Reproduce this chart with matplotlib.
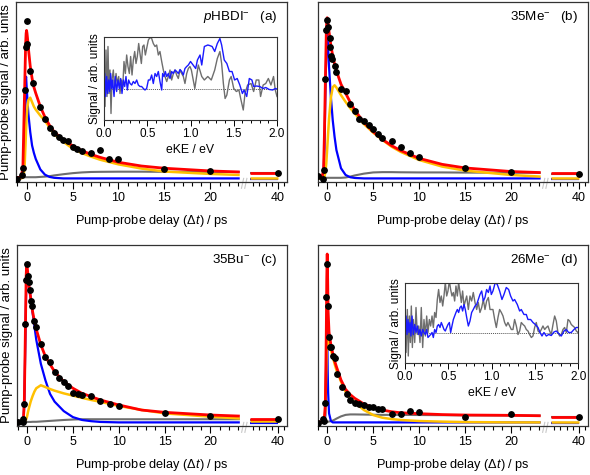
import numpy as np
import matplotlib
matplotlib.use("Agg")
import matplotlib.pyplot as plt
from matplotlib.ticker import FixedLocator, MultipleLocator, NullLocator

plt.rcParams['font.family'] = ['Liberation Sans', 'DejaVu Sans']
plt.rcParams['mathtext.fontset'] = 'custom'
plt.rcParams['mathtext.rm'] = 'Liberation Sans'
plt.rcParams['mathtext.it'] = 'Liberation Sans:italic'
plt.rcParams['mathtext.bf'] = 'Liberation Sans:bold'

# ---- fit curves, sampled on a shared delay grid (ps) ----
t_fit = [-1.2, -0.6, -0.4, -0.3, -0.2, -0.1, -0.05, 0, 0.05, 0.1, 0.2, 0.4, 0.6, 0.8, 1.0,
         1.5, 2, 2.5, 3, 4, 5, 6, 7, 8, 10, 12.5, 15, 20, 23.2]
t_tail = [35.5, 40.0]

a_red = [0.005, 0.008, 0.07, 0.35, 0.62, 0.90, 0.97, 0.99, 0.97, 0.94, 0.87, 0.75, 0.67, 0.61, 0.57,
         0.48, 0.41, 0.355, 0.312, 0.257, 0.219, 0.186, 0.161, 0.141, 0.108, 0.083, 0.068, 0.05, 0.043]
a_yel = [0, 0, 0.005, 0.03, 0.10, 0.25, 0.33, 0.40, 0.44, 0.48, 0.525, 0.54, 0.51, 0.48, 0.46,
         0.42, 0.385, 0.34, 0.295, 0.245, 0.20, 0.17, 0.146, 0.125, 0.094, 0.066, 0.046, 0.03, 0.023]
a_blu = [0, 0, 0.01, 0.12, 0.40, 0.66, 0.68, 0.62, 0.57, 0.52, 0.43, 0.31, 0.22, 0.17, 0.13,
         0.06, 0.025, 0.01, 0.004, 0, 0, 0, 0, 0, 0, 0, 0, 0, 0]
a_gry = [0.008, 0.008, 0.008, 0.008, 0.008, 0.008, 0.008, 0.008, 0.008, 0.008, 0.008, 0.008, 0.008, 0.008, 0.008,
         0.01, 0.012, 0.015, 0.02, 0.028, 0.035, 0.04, 0.043, 0.044, 0.045, 0.045, 0.044, 0.043, 0.043]
a_tail = [0.037, 0.006, -0.002, 0.035]   # red, yellow, blue, gray at long delay

b_red = [0.005, 0.005, 0.05, 0.3, 0.65, 0.97, 1.05, 1.075, 1.06, 1.04, 0.98, 0.89, 0.82, 0.765, 0.72,
         0.63, 0.57, 0.51, 0.456, 0.374, 0.312, 0.261, 0.219, 0.186, 0.134, 0.094, 0.07, 0.046, 0.039]
b_yel = [0, 0, 0, 0.01, 0.04, 0.10, 0.15, 0.2, 0.25, 0.3, 0.4, 0.54, 0.61, 0.623, 0.608,
         0.557, 0.512, 0.47, 0.434, 0.363, 0.306, 0.257, 0.212, 0.177, 0.123, 0.079, 0.052, 0.023, 0.012]
b_blu = [0, 0, 0.02, 0.2, 0.55, 0.85, 0.93, 0.965, 0.93, 0.87, 0.745, 0.545, 0.39, 0.279, 0.19,
         0.068, 0.023, 0.008, 0.003, 0, 0, 0, 0, 0, 0, 0, 0, 0, 0]
b_gry = [0.004, 0.004, 0.004, 0.004, 0.004, 0.004, 0.004, 0.004, 0.004, 0.004, 0.004, 0.004, 0.004, 0.004, 0.004,
         0.004, 0.006, 0.012, 0.02, 0.032, 0.04, 0.042, 0.042, 0.041, 0.04, 0.04, 0.039, 0.038, 0.038]
b_tail = [0.034, 0.006, -0.002, 0.03]

c_red = [0.0, 0.003, 0.02, 0.15, 0.55, 0.98, 1.045, 1.04, 1.01, 0.98, 0.91, 0.827, 0.738, 0.671, 0.62,
         0.516, 0.438, 0.387, 0.338, 0.271, 0.227, 0.193, 0.171, 0.149, 0.116, 0.082, 0.067, 0.049, 0.042]
c_yel = [0, 0, 0, 0.005, 0.01, 0.02, 0.03, 0.04, 0.055, 0.07, 0.095, 0.14, 0.175, 0.205, 0.227,
         0.247, 0.235, 0.222, 0.211, 0.193, 0.178, 0.163, 0.149, 0.137, 0.109, 0.083, 0.06, 0.038, 0.026]
c_blu = [0, 0, 0.01, 0.12, 0.5, 0.88, 0.95, 0.97, 0.96, 0.95, 0.91, 0.82, 0.73, 0.64, 0.55,
         0.39, 0.28, 0.19, 0.138, 0.075, 0.035, 0.016, 0.008, 0.003, 0, 0, 0, 0, 0]
c_gry = [0.0, 0.001, 0.001, 0.002, 0.002, 0.002, 0.002, 0.002, 0.003, 0.003, 0.003, 0.003, 0.004, 0.004, 0.004,
         0.006, 0.008, 0.01, 0.012, 0.016, 0.019, 0.021, 0.021, 0.021, 0.021, 0.021, 0.021, 0.021, 0.021]
c_tail = [0.022, 0.006, -0.001, 0.014]

d_red = [0.0, 0.005, 0.01, 0.04, 0.12, 0.6, 0.95, 1.12, 0.95, 0.74, 0.6, 0.516, 0.46, 0.41, 0.371,
         0.282, 0.22, 0.185, 0.16, 0.122, 0.098, 0.082, 0.071, 0.064, 0.058, 0.052, 0.049, 0.047, 0.044]
d_yel = [0, 0, 0, 0.01, 0.08, 0.35, 0.5, 0.56, 0.56, 0.55, 0.53, 0.48, 0.438, 0.39, 0.349,
         0.271, 0.204, 0.16, 0.131, 0.082, 0.049, 0.031, 0.022, 0.016, 0.009, 0.005, 0.002, 0, 0]
d_blu = [0, 0, 0, 0, 0.05, 0.45, 0.68, 0.6, 0.35, 0.2, 0.06, 0.01, 0, 0, 0,
         0, 0, 0, 0, 0, 0, 0, 0, 0, 0, 0, 0, 0, 0]
d_gry = [0, 0, 0, 0, 0, 0.001, 0.001, 0.002, 0.003, 0.004, 0.006, 0.008, 0.012, 0.018, 0.025,
         0.04, 0.05, 0.053, 0.053, 0.052, 0.051, 0.05, 0.05, 0.05, 0.049, 0.048, 0.047, 0.046, 0.045]
d_tail = [0.038, 0.0, -0.001, 0.034]

# ---- measured points ----
a_dot_t = [-1, -0.5, -0.4, -0.2, -0.1, 0, 0.1, 0.4, 0.7, 1.5, 2, 2.5, 3, 3.5, 4, 4.5, 5, 5.5, 6, 7, 8, 9, 10, 15, 20, 40]
a_dot_y = [-0.006, 0.025, 0.07, 0.59, 0.88, 1.05, 0.90, 0.72, 0.64, 0.479, 0.399, 0.34, 0.306, 0.279, 0.257,
           0.252, 0.212, 0.199, 0.186, 0.172, 0.188, 0.128, 0.128, 0.061, 0.05, 0.034]

b_dot_t = [-1, -0.5, -0.3, -0.2, -0.1, 0, 0.1, 0.25, 0.35, 0.45, 0.55, 0.8, 1.0, 1.5, 2, 2.5, 3, 3.5, 4, 4.5,
           5, 5.5, 6, 7, 8, 9, 10, 15, 20, 40]
b_dot_y = [0.019, -0.006, 0.057, 0.663, 0.994, 1.057, 1.01, 0.94, 0.88, 0.817, 0.80, 0.75, 0.712, 0.597, 0.586,
           0.501, 0.452, 0.397, 0.383, 0.359, 0.33, 0.294, 0.272, 0.252, 0.208, 0.172, 0.146, 0.072, 0.041, 0.032]

c_dot_t = [-1, -0.5, -0.4, -0.3, -0.2, -0.1, 0, 0.1, 0.2, 0.35, 0.45, 0.55, 0.75, 1.0, 1.5, 2, 2.5, 3, 3.5, 4,
           4.5, 5, 5.5, 6, 7, 8, 9, 10, 15, 20, 40]
c_dot_y = [0.0, 0.004, 0.02, 0.122, 0.653, 0.949, 1.053, 0.976, 0.931, 0.878, 0.809, 0.776, 0.676, 0.633, 0.522,
           0.438, 0.40, 0.338, 0.293, 0.267, 0.244, 0.193, 0.187, 0.182, 0.176, 0.144, 0.122, 0.111, 0.064, 0.042, 0.022]

d_dot_t = [-1, -0.5, -0.4, -0.2, -0.1, 0, 0.1, 0.2, 0.3, 0.45, 0.65, 0.85, 1.05, 1.6, 2.1, 2.5, 3, 3.5, 4, 4.5,
           5, 5.5, 6, 7, 8, 9, 10, 15, 20, 40]
d_dot_y = [-0.007, 0.02, 0.008, 0.127, 0.831, 1.056, 0.773, 0.567, 0.50, 0.50, 0.442, 0.427, 0.322, 0.238, 0.19,
           0.149, 0.127, 0.12, 0.116, 0.104, 0.104, 0.087, 0.091, 0.056, 0.056, 0.078, 0.071, 0.038, 0.056, 0.038]

# ---- inset spectra (eKE / eV, signal) ----
ins_a_gray = [(0.0, 0.51), (0.012, -0.35), (0.023, 0.78), (0.035, -0.15), (0.046, 0.85), (0.058, -0.09),
              (0.069, 0.38), (0.081, -0.49), (0.092, 0.18), (0.108, 0.38), (0.123, -0.02), (0.139, 0.31),
              (0.154, 0.11), (0.17, 0.25), (0.185, -0.09), (0.2, 0.18), (0.216, 0.01), (0.231, 0.55),
              (0.247, 0.31), (0.262, 0.68), (0.277, 0.45), (0.293, 0.31), (0.308, 0.65), (0.324, 0.28),
              (0.339, 0.58), (0.355, 0.75), (0.37, 0.51), (0.385, 0.65), (0.401, 0.91), (0.416, 0.71),
              (0.432, 0.51), (0.447, 0.85), (0.462, 0.88), (0.478, 0.68), (0.493, 0.81), (0.513, 0.98),
              (0.532, 1.03), (0.551, 1.01), (0.57, 0.91), (0.59, 0.85), (0.609, 0.88), (0.628, 0.68),
              (0.647, 0.75), (0.667, 0.55), (0.686, 0.38), (0.705, 0.25), (0.725, 0.15), (0.744, 0.25),
              (0.763, 0.38), (0.782, 0.18), (0.802, 0.31), (0.821, 0.38), (0.84, 0.28), (0.859, 0.21),
              (0.879, 0.38), (0.898, 0.31), (0.917, 0.25), (0.936, 0.11), (0.956, 0.31), (0.975, 0.41),
              (0.994, 0.45), (1.01, 0.38), (1.05, 0.01), (1.09, 0.48), (1.13, 0.25), (1.16, 0.18),
              (1.2, 0.25), (1.24, 0.18), (1.28, 0.38), (1.31, 0.61), (1.34, 0.75), (1.36, 0.51),
              (1.38, 0.11), (1.40, -0.19), (1.42, -0.12), (1.45, 0.18), (1.47, 0.25), (1.50, 0.01),
              (1.53, -0.05), (1.56, -0.02), (1.58, -0.19), (1.61, -0.42), (1.63, -0.09), (1.66, 0.08),
              (1.70, 0.11), (1.73, -0.05), (1.76, 0.18), (1.79, 0.18), (1.81, -0.15), (1.84, 0.08),
              (1.87, 0.11), (1.90, 0.21), (1.93, 0.08), (1.96, 0.25), (1.98, -0.02), (2.0, -0.15)]
ins_a_blue = [(0.0, -0.29), (0.008, 0.31), (0.019, -0.15), (0.031, 0.25), (0.042, -0.09), (0.054, 0.18),
              (0.066, -0.05), (0.077, 0.31), (0.089, 0.01), (0.1, 0.18), (0.116, -0.15), (0.131, 0.25),
              (0.146, -0.05), (0.162, 0.18), (0.177, 0.01), (0.193, 0.21), (0.208, -0.09), (0.224, 0.18),
              (0.239, 0.05), (0.254, 0.25), (0.27, -0.02), (0.285, 0.18), (0.301, 0.11), (0.32, 0.08),
              (0.339, 0.15), (0.358, 0.11), (0.378, 0.18), (0.397, 0.08), (0.416, 0.05), (0.435, 0.05),
              (0.455, 0.01), (0.474, -0.02), (0.493, 0.01), (0.513, 0.18), (0.532, 0.18), (0.551, 0.28),
              (0.57, 0.11), (0.59, 0.31), (0.609, 0.25), (0.628, 0.35), (0.647, 0.15), (0.667, -0.02),
              (0.678, 0.31), (0.694, 0.25), (0.709, 0.35), (0.725, 0.25), (0.744, 0.31), (0.763, 0.21),
              (0.782, 0.35), (0.802, 0.31), (0.821, 0.38), (0.84, 0.35), (0.859, 0.31), (0.879, 0.39),
              (0.898, 0.35), (0.917, 0.28), (0.936, 0.41), (0.956, 0.45), (0.975, 0.48), (1.0, 0.55),
              (1.03, 0.48), (1.06, 0.41), (1.08, 0.58), (1.11, 0.68), (1.13, 0.48), (1.16, 0.85),
              (1.2, 0.88), (1.22, 0.87), (1.25, 0.85), (1.28, 0.75), (1.31, 0.91), (1.34, 1.01),
              (1.36, 0.88), (1.39, 0.58), (1.42, 0.51), (1.45, 0.35), (1.48, 0.35), (1.51, 0.18),
              (1.54, 0.21), (1.57, 0.08), (1.6, -0.09), (1.62, -0.02), (1.65, -0.15), (1.68, 0.21),
              (1.71, 0.18), (1.73, 0.05), (1.76, 0.06), (1.8, 0.05), (1.84, 0.01), (1.87, 0.03),
              (1.91, -0.01), (1.95, -0.02), (1.98, 0.01), (2.0, 0.0)]

ins_d_gray = [(0.0, 0.40), (0.012, -0.40), (0.027, 0.46), (0.038, -0.47), (0.05, 0.33), (0.062, -0.20),
              (0.073, 0.53), (0.085, -0.30), (0.096, 0.26), (0.112, -0.20), (0.127, 0.50), (0.142, -0.04),
              (0.158, 0.13), (0.173, -0.20), (0.188, 0.50), (0.204, -0.30), (0.219, 0.26), (0.235, -0.07),
              (0.25, 0.33), (0.265, 0.0), (0.281, 0.26), (0.296, 0.13), (0.312, 0.33), (0.327, 0.10),
              (0.342, 0.40), (0.358, 0.30), (0.373, 0.66), (0.388, 0.86), (0.404, 0.60), (0.419, 0.73),
              (0.435, 0.53), (0.45, 0.73), (0.465, 1.0), (0.481, 0.73), (0.496, 0.83), (0.512, 1.03),
              (0.527, 0.86), (0.542, 0.73), (0.558, 0.80), (0.573, 0.63), (0.588, 0.93), (0.604, 0.73),
              (0.619, 1.0), (0.635, 0.80), (0.65, 0.60), (0.665, 0.83), (0.681, 0.53), (0.696, 0.63),
              (0.712, 0.73), (0.731, 0.46), (0.75, 0.73), (0.769, 0.63), (0.788, 0.80), (0.808, 0.60),
              (0.827, 0.46), (0.846, 0.60), (0.865, 0.40), (0.885, 0.50), (0.904, 0.66), (0.923, 0.46),
              (0.942, 0.63), (0.962, 0.70), (0.981, 0.46), (1.015, 0.46), (1.035, 0.26), (1.054, 0.10),
              (1.073, 0.30), (1.092, 0.46), (1.112, 0.40), (1.131, 0.33), (1.15, 0.20), (1.169, 0.13),
              (1.188, 0.20), (1.208, 0.13), (1.227, 0.06), (1.246, 0.06), (1.265, 0.26), (1.285, 0.13),
              (1.304, -0.04), (1.323, 0.03), (1.342, 0.20), (1.362, 0.16), (1.381, 0.13), (1.4, 0.06),
              (1.419, 0.03), (1.438, -0.04), (1.458, -0.10), (1.477, -0.07), (1.496, 0.10), (1.515, 0.20),
              (1.535, 0.03), (1.554, 0.0), (1.573, 0.06), (1.592, 0.13), (1.612, 0.06), (1.631, 0.10),
              (1.65, 0.13), (1.669, 0.03), (1.688, -0.04), (1.708, 0.16), (1.727, 0.33), (1.746, 0.23),
              (1.765, 0.0), (1.785, -0.07), (1.804, -0.04), (1.823, 0.06), (1.842, 0.10), (1.862, 0.0),
              (1.881, 0.26), (1.9, 0.23), (1.919, 0.16), (1.938, 0.13), (1.958, 0.10), (1.977, 0.03),
              (1.996, 0.0)]
ins_d_blue = [(0.0, -0.14), (0.012, 0.33), (0.023, -0.04), (0.035, 0.26), (0.046, 0.0), (0.058, 0.20),
              (0.069, -0.07), (0.081, 0.33), (0.096, -0.04), (0.112, 0.16), (0.127, 0.0), (0.142, 0.13),
              (0.158, -0.04), (0.173, 0.06), (0.188, -0.07), (0.204, 0.06), (0.219, 0.0), (0.235, -0.04),
              (0.25, 0.06), (0.265, -0.10), (0.281, -0.07), (0.296, -0.04), (0.312, 0.0), (0.327, -0.10),
              (0.342, 0.06), (0.358, 0.0), (0.373, 0.13), (0.388, 0.16), (0.404, 0.10), (0.419, 0.20),
              (0.435, 0.13), (0.45, 0.06), (0.465, 0.03), (0.481, 0.10), (0.496, 0.16), (0.512, 0.20),
              (0.527, 0.0), (0.542, 0.13), (0.558, 0.26), (0.573, 0.33), (0.588, 0.40), (0.604, 0.46),
              (0.619, 0.40), (0.635, 0.50), (0.65, 0.53), (0.665, 0.43), (0.681, 0.56), (0.696, 0.46),
              (0.712, 0.30), (0.731, 0.13), (0.75, 0.23), (0.769, 0.40), (0.788, 0.46), (0.808, 0.53),
              (0.827, 0.56), (0.846, 0.66), (0.865, 0.76), (0.885, 0.83), (0.904, 0.63), (0.923, 0.70),
              (0.942, 0.86), (0.962, 0.80), (0.981, 0.93), (0.996, 0.76), (1.015, 0.83), (1.042, 1.0),
              (1.065, 0.96), (1.092, 0.83), (1.119, 0.66), (1.142, 0.76), (1.169, 0.90), (1.196, 0.86),
              (1.219, 0.73), (1.246, 0.63), (1.265, 0.66), (1.296, 0.56), (1.323, 0.43), (1.342, 0.46),
              (1.373, 0.36), (1.4, 0.36), (1.419, 0.26), (1.45, 0.26), (1.477, 0.20), (1.504, 0.16),
              (1.535, 0.10), (1.558, 0.0), (1.581, -0.07), (1.604, 0.0), (1.631, -0.07), (1.658, -0.04),
              (1.688, -0.06), (1.719, 0.01), (1.746, 0.03), (1.773, -0.02), (1.804, -0.07), (1.835, 0.03),
              (1.862, 0.06), (1.888, 0.0), (1.919, 0.0), (1.95, 0.06), (1.977, 0.10), (1.996, 0.10)]

RED, YEL, BLU, GRY = '#ff0000', '#ffc000', '#0000ff', '#6e6e6e'


# broken delay axis: 0-23.2 ps linear, gap, then 35.3 ps onward compressed
def fwd(t):
    return np.interp(t, [-100, 23.2, 35.3, 200], [-100, 23.2, 24.2, 24.2 + 164.7 * 0.674])


def inv(x):
    return np.interp(x, [-100, 23.2, 24.2, 24.2 + 164.7 * 0.674], [-100, 23.2, 35.3, 200])


def panel(ax, xmin, curves, tail, dot_t, dot_y, name, letter, ylab):
    ax.set_xscale('function', functions=(fwd, inv))
    for vals, tv, col, lw in zip(curves[::-1], tail[::-1], [GRY, BLU, YEL, RED], [1.5, 1.6, 1.8, 2.0]):
        ax.plot(t_fit, vals, color=col, lw=lw, solid_capstyle='butt')
        ax.plot(t_tail, [tv, tv], color=col, lw=lw, solid_capstyle='butt')
    ax.plot(dot_t, dot_y, 'o', color='black', ms=3.9, zorder=5)
    ax.set_xlim(xmin, 41.45)
    ax.set_ylim(-0.024, 1.18)
    ax.xaxis.set_major_locator(FixedLocator([0, 5, 10, 15, 20, 40]))
    ax.xaxis.set_minor_locator(FixedLocator([k for k in range(-1, 24) if k % 5] + [36, 37, 38, 39, 41]))
    ax.yaxis.set_major_locator(NullLocator())
    ax.tick_params(axis='x', which='major', direction='out', length=5, width=0.8, labelsize=9, pad=2)
    ax.tick_params(axis='x', which='minor', direction='out', length=3, width=0.8)
    for s in ax.spines.values():
        s.set_linewidth(0.9)
        s.set_color('#333333')
    ax.set_xlabel(r'Pump-probe delay ($\mathit{\Delta t}$) / ps', fontsize=9.2, labelpad=7)
    if ylab:
        ax.set_ylabel('Pump-probe signal / arb. units', fontsize=9.5, labelpad=3)
    ax.text(0.965, 0.915, name + r'   (' + letter + ')', transform=ax.transAxes,
            ha='right', va='center', fontsize=9.6)
    # break marks on the delay axis
    for dx in (0.0, 0.012):
        ax.plot([0.832 + dx, 0.840 + dx], [-0.035, 0.02], transform=ax.transAxes,
                color='#c8c8c8', lw=0.8, clip_on=False)


def inset(ax, gray, blue, ylim):
    ge, gy = zip(*gray)
    be, by = zip(*blue)
    ax.axhline(0, color='#555555', lw=0.7, ls=(0, (1, 1)))
    ax.plot(ge, gy, color=GRY, lw=1.0)
    ax.plot(be, by, color='#1a1aff', lw=1.0)
    ax.set_xlim(0, 2.0)
    ax.set_ylim(*ylim)
    ax.xaxis.set_major_locator(MultipleLocator(0.5))
    ax.xaxis.set_minor_locator(MultipleLocator(0.1))
    ax.xaxis.set_major_formatter(matplotlib.ticker.FormatStrFormatter('%.1f'))
    ax.yaxis.set_major_locator(NullLocator())
    ax.tick_params(axis='x', which='major', direction='out', length=4, width=0.7, labelsize=8.5, pad=1.5)
    ax.tick_params(axis='x', which='minor', direction='out', length=2.5, width=0.7)
    for s in ax.spines.values():
        s.set_linewidth(0.8)
        s.set_color('#333333')
    ax.set_xlabel('eKE / eV', fontsize=8.8, labelpad=3)
    ax.set_ylabel('Signal / arb. units', fontsize=8.5, labelpad=2)


fig = plt.figure(figsize=(5.9, 4.75), dpi=100)
W, H = 590.0, 475.0

ax_a = fig.add_axes([16 / W, 1 - 182 / H, 271 / W, 180 / H])
ax_b = fig.add_axes([318 / W, 1 - 182 / H, 270 / W, 180 / H])
ax_c = fig.add_axes([17 / W, 1 - 426 / H, 270 / W, 181 / H])
ax_d = fig.add_axes([318 / W, 1 - 426 / H, 270 / W, 181 / H])

panel(ax_a, -1.15, [a_red, a_yel, a_blu, a_gry], a_tail, a_dot_t, a_dot_y,
      r'$\mathit{p}$HBDI$^{-}$', 'a', True)
panel(ax_b, -1.0, [b_red, b_yel, b_blu, b_gry], b_tail, b_dot_t, b_dot_y,
      r'35Me$^{-}$', 'b', False)
panel(ax_c, -1.1, [c_red, c_yel, c_blu, c_gry], c_tail, c_dot_t, c_dot_y,
      r'35Bu$^{-}$', 'c', True)
panel(ax_d, -1.0, [d_red, d_yel, d_blu, d_gry], d_tail, d_dot_t, d_dot_y,
      r'26Me$^{-}$', 'd', False)

in_a = fig.add_axes([104 / W, 1 - 120 / H, 173 / W, 83 / H])
inset(in_a, ins_a_gray, ins_a_blue, (-0.62, 1.04))
in_d = fig.add_axes([405 / W, 1 - 363.3 / H, 173.3 / W, 80 / H])
inset(in_d, ins_d_gray, ins_d_blue, (-0.616, 0.984))

fig.savefig('out.png', dpi=100)
